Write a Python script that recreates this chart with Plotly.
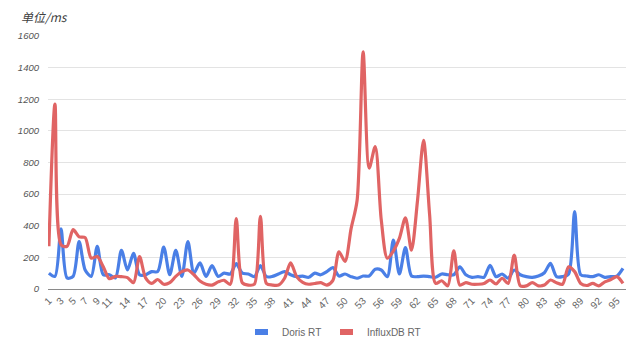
import plotly.graph_objects as go

# sample index (1..96)
points = list(range(1, 97))

# response time per sample, ms
doris_rt = [
    100, 80, 380, 70, 80, 300, 120, 80, 270, 90,
    90, 70, 245, 120, 225, 90, 90, 110, 110, 265,
    90, 245, 80, 300, 100, 165, 80, 148, 80, 100,
    95, 160, 100, 95, 78, 148, 78, 80, 95, 110,
    90, 78, 82, 74, 100, 90, 110, 135, 82, 95,
    78, 68, 82, 82, 125, 120, 78, 310, 95, 262,
    82, 78, 82, 78, 74, 95, 90, 90, 140, 90,
    74, 78, 74, 150, 78, 95, 68, 120, 90, 78,
    74, 82, 103, 162, 78, 78, 95, 490, 90, 82,
    78, 90, 74, 78, 82, 130,
]
influx_rt = [
    270, 1170, 280, 270, 375, 330, 325, 195, 205, 140,
    65, 80, 78, 72, 40, 205, 70, 35, 60, 30,
    40, 80, 110, 120, 90, 50, 30, 25, 45, 55,
    30, 445, 40, 25, 30, 460, 35, 25, 25, 68,
    165, 78, 42, 30, 35, 40, 25, 55, 235, 175,
    380, 560, 1500, 765, 900, 437, 195, 240, 320, 450,
    245, 560, 940, 470, 35, 52, 20, 242, 25, 40,
    30, 30, 35, 57, 32, 68, 35, 215, 20, 20,
    40, 20, 25, 57, 40, 30, 140, 110, 35, 22,
    35, 20, 45, 60, 78, 35,
]

tick_points = [1, 3, 5, 7, 9, 11, 14, 17, 20, 23, 26, 29, 32, 35, 38, 41, 44,
               47, 50, 53, 56, 59, 62, 65, 68, 71, 74, 77, 80, 83, 86, 89, 92, 95]
y_ticks = [0, 200, 400, 600, 800, 1000, 1200, 1400, 1600]

BLUE = "#4a7fe6"
RED = "#e06464"
FONT = "Liberation Sans, Arial, sans-serif"

fig = go.Figure()
fig.add_trace(go.Scatter(x=points, y=doris_rt, mode="lines", name="Doris RT",
                         line=dict(color=BLUE, width=3.2, shape="spline", smoothing=0.8),
                         showlegend=False))
fig.add_trace(go.Scatter(x=points, y=influx_rt, mode="lines", name="InfluxDB RT",
                         line=dict(color=RED, width=3.2, shape="spline", smoothing=0.8),
                         showlegend=False))

W, H = 626, 337
L, R, T, B = 48, 0, 36, 48
pw, ph = W - L - R, H - T - B


def px(x):
    return (x - L) / pw


def py(y):
    return (H - B - y) / ph


# legend swatches and labels
shapes = []
annotations = []
for (x0, label, color) in [(255, "Doris RT", BLUE), (340, "InfluxDB RT", RED)]:
    shapes.append(dict(type="rect", xref="paper", yref="paper",
                       x0=px(x0), x1=px(x0 + 13), y0=py(335), y1=py(329),
                       fillcolor=color, line=dict(width=0)))
    annotations.append(dict(xref="paper", yref="paper", x=px(x0 + 25), y=py(332),
                            xanchor="left", yanchor="middle", text=label,
                            showarrow=False,
                            font=dict(size=10, color="#666666", family=FONT)))

annotations.append(dict(xref="paper", yref="paper", x=px(19), y=py(17),
                        xanchor="left", yanchor="middle", text="单位/ms",
                        showarrow=False,
                        font=dict(size=12, color="#404040", style="italic",
                                  family="Noto Sans CJK SC, sans-serif")))

fig.update_layout(
    width=W, height=H,
    margin=dict(l=L, r=R, t=T, b=B, pad=0),
    paper_bgcolor="white", plot_bgcolor="white",
    shapes=shapes, annotations=annotations,
    showlegend=False,
    xaxis=dict(range=[0.85, 96.5], tickmode="array", tickvals=tick_points,
               ticktext=[str(t) for t in tick_points], tickangle=-45,
               tickfont=dict(size=10, color="#666666", family=FONT),
               showgrid=False, zeroline=False, showline=False, ticks="",
               ticklabelstandoff=3),
    yaxis=dict(range=[0, 1600], tickmode="array", tickvals=y_ticks,
               tickfont=dict(size=9.5, color="#555555", family=FONT, style="italic"),
               showgrid=True, gridcolor="#e3e3e3", gridwidth=1,
               zeroline=True, zerolinecolor="#8a8a8a", zerolinewidth=1,
               showline=False, ticks="", ticklabelstandoff=8),
)

fig.write_html("out.html")
